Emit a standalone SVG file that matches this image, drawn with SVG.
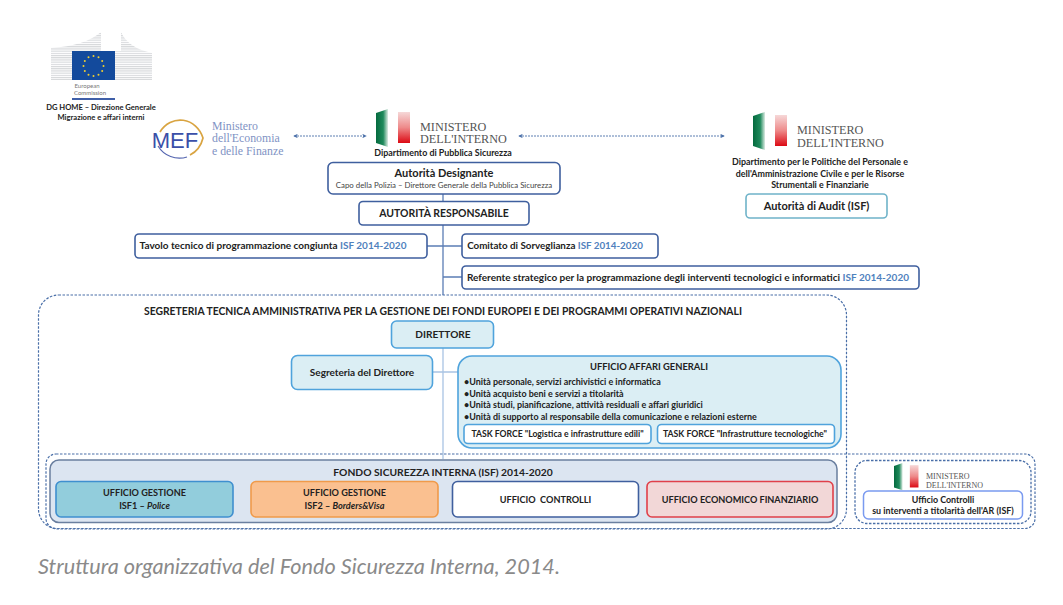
<svg xmlns="http://www.w3.org/2000/svg" width="1063" height="605" viewBox="0 0 1063 605">
<style>
text{font-family:"Lato","Liberation Sans",sans-serif;fill:#222;text-anchor:middle;font-weight:700}
.b{fill:#fff;stroke:#3f5f9e;stroke-width:1.6}
.lt{fill:#dbeef4;stroke:#4fa3dc;stroke-width:1.6}
.tf{fill:#fff;stroke:#4fa3dc;stroke-width:1.6}
.dash{fill:none;stroke:#4a6fa8;stroke-width:1.2;stroke-dasharray:2.5 1.5}
.l{font-size:10px}
.m{font-size:11px}
.u{font-size:9.150px}
.bl{font-size:8.950px}
.dep{font-size:8.900px}
.isf{fill:#4f81bd}
.serif{font-family:"Liberation Serif","DejaVu Serif",serif;font-weight:400;fill:#555;text-anchor:start;font-size:12.200px}
.mef{font-family:"Liberation Serif",serif;font-weight:400;fill:#7f93c4;text-anchor:start;font-size:11.800px}
.conn{stroke:#5b7db5;stroke-width:1.3;fill:none}
.connl{stroke:#a9c4e4;stroke-width:1.3;fill:none}
.arr{stroke:#4a6fa8;stroke-width:.9;stroke-dasharray:2 1;fill:none;marker-start:url(#a);marker-end:url(#a)}
</style>
<defs>
<marker id="a" viewBox="0 0 6 6" refX="5" refY="3" markerWidth="5" markerHeight="5" orient="auto-start-reverse"><path d="M0 0L6 3L0 6L1.5 3z" fill="#4a6fa8"/></marker>
<pattern id="st" width="3" height="2.200" patternUnits="userSpaceOnUse"><rect width="3" height="1.100" fill="#d4d6d9"/></pattern>
<linearGradient id="gr" x1="0" x2="1" y1="0" y2="0"><stop offset="0" stop-color="#046a3e"/><stop offset=".6" stop-color="#1f8a5c"/><stop offset="1" stop-color="#dcebe3"/></linearGradient>
<linearGradient id="rd" x1="0" x2="0" y1="0" y2="1"><stop offset="0" stop-color="#f6d8d8"/><stop offset=".5" stop-color="#ee8a8a"/><stop offset="1" stop-color="#dc0a14"/></linearGradient>
<g id="flag"><path d="M0 4L12 0V38L0 34z" fill="url(#gr)"/><path d="M22 3H34V34H22z" fill="url(#rd)"/></g>
</defs>
<rect width="1063" height="605" fill="#fff"/>

<g id="connectors">
<path class="conn" d="M443 194V295M427 246H462M443 277H462"/>
<path class="connl" d="M443 348V459M433 372H458"/>
<path class="arr" d="M294 136H366"/>
<path class="arr" d="M519 136H724"/>
</g>

<g id="ec-logo">
<path d="M51 48Q85 46 101 32V51H72V80H51z" fill="url(#st)"/>
<path d="M121 32Q128 48 152 53V80H115V51H121z" fill="url(#st)"/>
<rect x="72" y="51" width="43" height="29" fill="#134a9c"/>
<g fill="#f0d030"><circle cx="93.500" cy="56" r="1"/><circle cx="98.500" cy="57.300" r="1"/><circle cx="102.200" cy="61" r="1"/><circle cx="103.500" cy="66" r="1"/><circle cx="102.200" cy="71" r="1"/><circle cx="98.500" cy="74.700" r="1"/><circle cx="93.500" cy="76" r="1"/><circle cx="88.500" cy="74.700" r="1"/><circle cx="84.800" cy="71" r="1"/><circle cx="83.500" cy="66" r="1"/><circle cx="84.800" cy="61" r="1"/><circle cx="88.500" cy="57.300" r="1"/></g>
<text x="87" y="87.500" style="font-size:6px;font-weight:400;fill:#777">European</text>
<text x="90" y="95" style="font-size:6px;font-weight:400;fill:#777">Commission</text>
<rect x="72" y="98" width="43" height="2" fill="#3f5fa8"/>
<text x="101" y="110" style="font-size:7.600px">DG HOME – Direzione Generale</text>
<text x="101" y="120" style="font-size:7.600px">Migrazione e affari interni</text>
</g>

<g id="mef">
<path d="M160 132A24 26 0 0 1 203 138A24 26 0 0 1 190 155" fill="none" stroke="#d9a441" stroke-width="1.700"/>
<path d="M158 146A25 25 0 0 0 187 157" fill="none" stroke="#5566b0" stroke-width="1.200"/>
<text x="175" y="148" style="font-family:'Liberation Sans',sans-serif;font-size:22px;font-weight:400;fill:#3b4fa8">MEF</text>
<text class="mef" x="212" y="130">Ministero</text>
<text class="mef" x="212" y="142">dell'Economia</text>
<text class="mef" x="212" y="155">e delle Finanze</text>
</g>

<g id="ministero-ps">
<use href="#flag" x="376" y="109"/>
<text class="serif" x="420" y="131">MINISTERO</text>
<text class="serif" x="420" y="143">DELL'INTERNO</text>
<text class="dep" x="443" y="156">Dipartimento di Pubblica Sicurezza</text>
</g>

<g id="ministero-audit">
<use href="#flag" x="753" y="112"/>
<text class="serif" x="797" y="134">MINISTERO</text>
<text class="serif" x="797" y="147">DELL'INTERNO</text>
<text class="dep" x="820" y="165">Dipartimento per le Politiche del Personale e</text>
<text class="dep" x="820" y="176.500">dell'Amministrazione Civile e per le Risorse</text>
<text class="dep" x="820" y="188">Strumentali e Finanziarie</text>
</g>

<g id="autorita-audit">
<rect x="746" y="194" width="141" height="24" rx="4" fill="#fff" stroke="#6fb3c9" stroke-width="1.600"/>
<text class="m" x="816.500" y="210">Autorità di Audit (ISF)</text>
</g>

<g id="autorita-designante">
<rect class="b" x="328" y="162.500" width="232" height="31.500" rx="5"/>
<text x="444" y="177" style="font-size:11px">Autorità Designante</text>
<text x="444" y="188" style="font-size:7.850px;font-weight:400;fill:#444">Capo della Polizia – Direttore Generale della Pubblica Sicurezza</text>
</g>

<g id="autorita-responsabile">
<rect class="b" x="359" y="201.500" width="170" height="23.500" rx="4"/>
<text x="444" y="217" style="font-size:10.450px">AUTORITÀ RESPONSABILE</text>
</g>

<g id="tavolo">
<rect class="b" x="135" y="234" width="292" height="24" rx="4"/>
<text class="l" x="273" y="249">Tavolo tecnico di programmazione congiunta <tspan class="isf">ISF 2014-2020</tspan></text>
</g>

<g id="comitato">
<rect class="b" x="462" y="234" width="196" height="24" rx="4"/>
<text x="555" y="249" style="font-size:9.800px">Comitato di Sorveglianza <tspan class="isf">ISF 2014-2020</tspan></text>
</g>

<g id="referente">
<rect class="b" x="462" y="266" width="457" height="23" rx="4"/>
<text class="l" x="688" y="281">Referente strategico per la programmazione degli interventi tecnologici e informatici <tspan class="isf">ISF 2014-2020</tspan></text>
</g>

<g id="segreteria-tecnica">
<rect class="dash" x="38.500" y="295" width="808" height="234" rx="20"/>
<text x="443" y="315" style="font-size:10.350px">SEGRETERIA TECNICA AMMINISTRATIVA PER LA GESTIONE DEI FONDI EUROPEI E DEI PROGRAMMI OPERATIVI NAZIONALI</text>
</g>

<g id="direttore">
<rect class="lt" x="391.500" y="321" width="102" height="27" rx="5"/>
<text x="443" y="338" style="font-size:10.100px">DIRETTORE</text>
</g>

<g id="segreteria-direttore">
<rect class="lt" x="291.500" y="355.500" width="141" height="34" rx="6"/>
<text class="l" x="362" y="376">Segreteria del Direttore</text>
</g>

<g id="affari-generali">
<rect class="lt" x="458" y="356" width="383" height="92" rx="14"/>
<text x="649" y="370" style="font-size:9.400px">UFFICIO AFFARI GENERALI</text>
<g class="bl">
<text x="464" y="385" style="text-anchor:start">•Unità personale, servizi archivistici e informatica</text>
<text x="464" y="396.500" style="text-anchor:start">•Unità acquisto beni e servizi a titolarità</text>
<text x="464" y="408" style="text-anchor:start">•Unità studi, pianificazione, attività residuali e affari giuridici</text>
<text x="464" y="419.500" style="text-anchor:start">•Unità di supporto al responsabile della comunicazione e relazioni esterne</text>
</g>
</g>

<g id="task-force-logistica">
<rect class="tf" x="464" y="424.500" width="187" height="19" rx="4"/>
<text x="557.500" y="437" style="font-size:8.650px">TASK FORCE "Logistica e infrastrutture edili"</text>
</g>

<g id="task-force-tecnologiche">
<rect class="tf" x="657.500" y="424.500" width="177" height="19" rx="4"/>
<text x="745" y="437" style="font-size:8.700px">TASK FORCE "Infrastrutture tecnologiche"</text>
</g>

<g id="fondo-dashed"><rect class="dash" x="46" y="454" width="989" height="74.500" rx="10"/></g>

<g id="fondo-sicurezza">
<rect x="50" y="460" width="787" height="62.500" rx="9" fill="#dce5f1" stroke="#6a7f9f" stroke-width="1.500"/>
<text x="443" y="476" style="font-size:10.300px">FONDO SICUREZZA INTERNA (ISF) 2014-2020</text>
</g>

<g id="ufficio-isf1">
<rect x="56" y="481.500" width="177" height="35.500" rx="5" fill="#92cddc" stroke="#3f8fcf" stroke-width="1.600"/>
<text class="u" x="144.500" y="496">UFFICIO GESTIONE</text>
<text class="u" x="144.500" y="509">ISF1 – <tspan font-style="italic">Police</tspan></text>
</g>

<g id="ufficio-isf2">
<rect x="251" y="481.500" width="187" height="35.500" rx="5" fill="#fac090" stroke="#f09a4a" stroke-width="1.600"/>
<text class="u" x="344.500" y="496">UFFICIO GESTIONE</text>
<text class="u" x="344.500" y="509">ISF2 – <tspan font-style="italic">Borders&amp;Visa</tspan></text>
</g>

<g id="ufficio-controlli">
<rect class="b" x="452.500" y="481.500" width="186" height="35.500" rx="5"/>
<text class="u" x="545.500" y="503" xml:space="preserve">UFFICIO  CONTROLLI</text>
</g>

<g id="ufficio-economico">
<rect x="647" y="481.500" width="186" height="35.500" rx="5" fill="#f2d7d7" stroke="#e0404a" stroke-width="1.600"/>
<text class="u" x="740" y="503">UFFICIO ECONOMICO FINANZIARIO</text>
</g>

<g id="ministero-controlli">
<rect class="dash" x="855" y="460.500" width="176" height="63" rx="12" style="stroke-width:1.300"/>
<use href="#flag" transform="translate(894 463) scale(.72)"/>
<text class="serif" x="926" y="479" style="font-size:8px">MINISTERO</text>
<text class="serif" x="926" y="487.500" style="font-size:8px">DELL'INTERNO</text>
</g>

<g id="ufficio-controlli-ar">
<rect x="863.500" y="491" width="159" height="28" rx="5" fill="#fff" stroke="#7a9af0" stroke-width="1.500"/>
<text x="943" y="502.500" style="font-size:8.900px">Ufficio Controlli</text>
<text x="943" y="514" style="font-size:8.900px">su interventi a titolarità dell'AR (ISF)</text>
</g>

<text id="caption" x="38" y="574" textLength="522" lengthAdjust="spacingAndGlyphs" style="font-size:22px;font-style:italic;font-weight:400;fill:#8a8a8a;text-anchor:start">Struttura organizzativa del Fondo Sicurezza Interna, 2014.</text>
</svg>
